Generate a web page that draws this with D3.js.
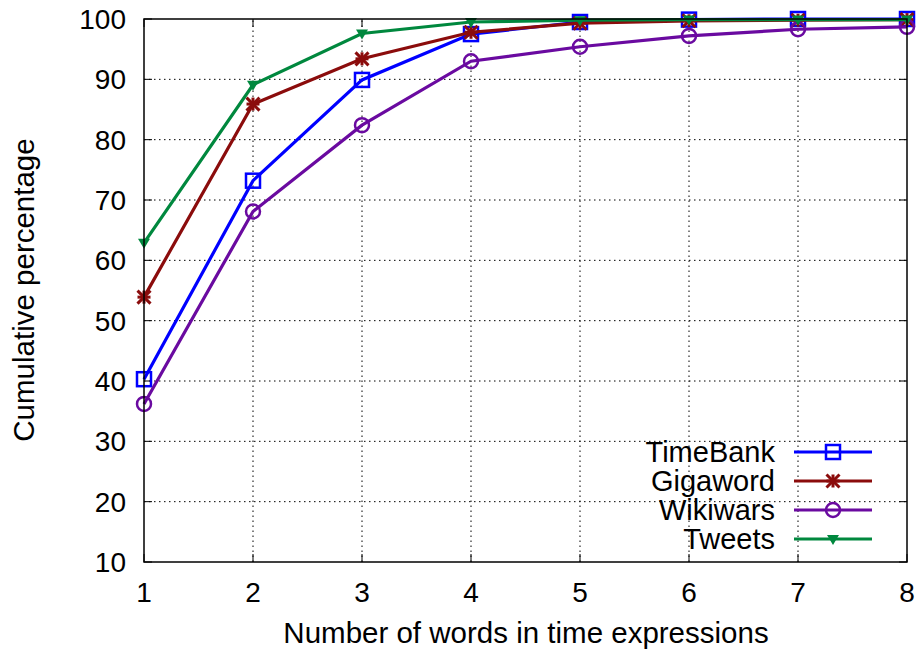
<!DOCTYPE html>
<html>
<head>
<meta charset="utf-8">
<script src="https://cdn.jsdelivr.net/npm/d3@7"></script>
<style>
  body { margin: 0; background: #fff; }
  text { font-family: "Liberation Sans", Arial, sans-serif; fill: #000; }
</style>
</head>
<body>
<svg width="922" height="655"></svg>
<script>
const svg = d3.select("svg"),
  width = 922, height = 655;

// Data
const words = [1, 2, 3, 4, 5, 6, 7, 8];
const timebank = [40.3, 73.2, 89.9, 97.5, 99.5, 99.9, 100, 100];
const gigaword = [53.9, 85.9, 93.4, 97.8, 99.3, 99.7, 99.8, 99.9];
const wikiwars = [36.2, 68.1, 82.4, 93.0, 95.4, 97.2, 98.3, 98.7];
const tweets = [62.9, 89.1, 97.6, 99.5, 99.8, 99.9, 99.9, 99.9];
const seriesNames = ["TimeBank", "Gigaword", "Wikiwars", "Tweets"];
const yTicks = [10, 20, 30, 40, 50, 60, 70, 80, 90, 100];

const series = [
  { name: seriesNames[0], values: timebank, color: "#0000ff", marker: "square" },
  { name: seriesNames[1], values: gigaword, color: "#8b0c0c", marker: "star" },
  { name: seriesNames[2], values: wikiwars, color: "#6a0aa0", marker: "circle" },
  { name: seriesNames[3], values: tweets, color: "#00883e", marker: "triangle" },
];

const margin = { left: 144, right: 15, top: 19, bottom: 93 };
const x = d3.scaleLinear().domain([1, 8]).range([margin.left, width - margin.right]);
const y = d3.scaleLinear().domain([10, 100]).range([height - margin.bottom, margin.top]);
const fs = 28;

// Grid
const grid = svg.append("g");
grid.selectAll(".gx").data(words.slice(1, -1)).join("line")
  .attr("x1", d => x(d)).attr("x2", d => x(d))
  .attr("y1", y(10)).attr("y2", y(100))
  .attr("stroke", "#000").attr("stroke-width", 1).attr("stroke-dasharray", "1.5,3.5");
grid.selectAll(".gy").data(yTicks.slice(1, -1)).join("line")
  .attr("x1", x(1)).attr("x2", x(8))
  .attr("y1", d => y(d)).attr("y2", d => y(d))
  .attr("stroke", "#000").attr("stroke-width", 1).attr("stroke-dasharray", "1.5,3.5");

// Axes (gnuplot style: inward ticks, mirrored)
const tick = 8;
const ax = svg.append("g").attr("stroke", "#000").attr("stroke-width", 1);
words.forEach(d => {
  ax.append("line").attr("x1", x(d)).attr("x2", x(d)).attr("y1", y(10)).attr("y2", y(10) - tick);
  ax.append("line").attr("x1", x(d)).attr("x2", x(d)).attr("y1", y(100)).attr("y2", y(100) + tick);
});
yTicks.forEach(d => {
  ax.append("line").attr("x1", x(1)).attr("x2", x(1) + tick).attr("y1", y(d)).attr("y2", y(d));
  ax.append("line").attr("x1", x(8)).attr("x2", x(8) - tick).attr("y1", y(d)).attr("y2", y(d));
});

svg.append("g").selectAll("text").data(words).join("text")
  .attr("x", d => x(d)).attr("y", 602)
  .attr("text-anchor", "middle").attr("font-size", fs)
  .text(d => d);
svg.append("g").selectAll("text").data(yTicks).join("text")
  .attr("x", 126).attr("y", d => y(d) + 10)
  .attr("text-anchor", "end").attr("font-size", fs)
  .text(d => d);

svg.append("text")
  .attr("x", 526).attr("y", 643)
  .attr("text-anchor", "middle").attr("font-size", 29.5)
  .text("Number of words in time expressions");
svg.append("text")
  .attr("transform", `translate(34,290) rotate(-90)`)
  .attr("text-anchor", "middle").attr("font-size", 29.5)
  .text("Cumulative percentage");

// Markers
function drawMarker(g, type, color, cx, cy) {
  if (type === "square") {
    g.append("rect").attr("x", cx - 7).attr("y", cy - 7).attr("width", 14).attr("height", 14)
      .attr("fill", "none").attr("stroke", color).attr("stroke-width", 2.5);
  } else if (type === "circle") {
    g.append("circle").attr("cx", cx).attr("cy", cy).attr("r", 7)
      .attr("fill", "none").attr("stroke", color).attr("stroke-width", 2.5);
  } else if (type === "star") {
    const r = 6.5;
    [[-r, 0, r, 0], [-r, -r, r, r], [-r, r, r, -r], [0, -r, 0, r]].forEach(s => {
      g.append("line").attr("x1", cx + s[0]).attr("y1", cy + s[1]).attr("x2", cx + s[2]).attr("y2", cy + s[3])
        .attr("stroke", color).attr("stroke-width", 3);
    });
  } else if (type === "triangle") {
    g.append("path").attr("d", `M${cx - 6},${cy - 4}L${cx + 6},${cy - 4}L${cx},${cy + 6}Z`)
      .attr("fill", color);
  }
}

const line = d3.line().x((d, i) => x(words[i])).y(d => y(d));
series.forEach(s => {
  const g = svg.append("g");
  g.append("path").datum(s.values).attr("d", line)
    .attr("fill", "none").attr("stroke", s.color).attr("stroke-width", 3.2);
  s.values.forEach((v, i) => drawMarker(g, s.marker, s.color, x(words[i]), y(v)));
});

// Border
svg.append("rect")
  .attr("x", x(1)).attr("y", y(100))
  .attr("width", x(8) - x(1)).attr("height", y(10) - y(100))
  .attr("fill", "none").attr("stroke", "#000").attr("stroke-width", 1.5);

// Legend
const legend = svg.append("g");
series.forEach((s, i) => {
  const ly = 452 + i * 29;
  legend.append("text").attr("x", 775).attr("y", ly + 10)
    .attr("text-anchor", "end").attr("font-size", 29).text(s.name);
  legend.append("line").attr("x1", 794).attr("x2", 872).attr("y1", ly).attr("y2", ly)
    .attr("stroke", s.color).attr("stroke-width", 3.2);
  drawMarker(legend, s.marker, s.color, 833, ly);
});
</script>
</body>
</html>
